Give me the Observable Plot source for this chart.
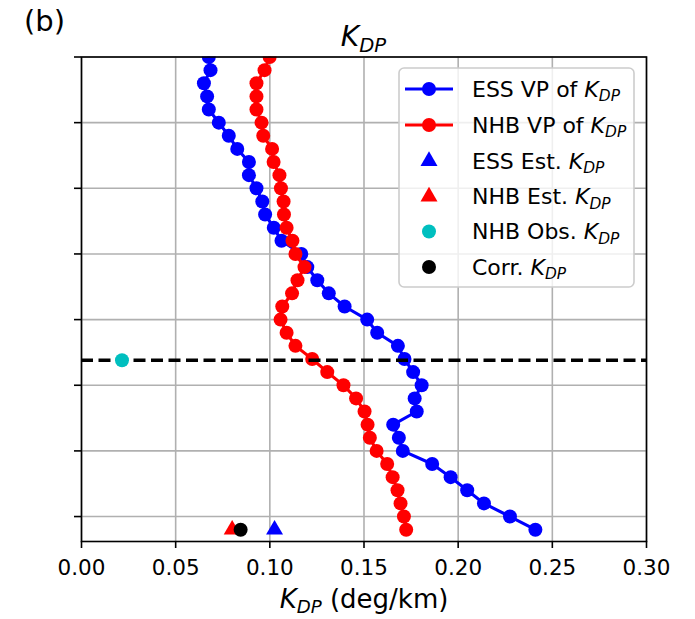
<!DOCTYPE html>
<html><head><meta charset="utf-8">
<script src="https://cdn.jsdelivr.net/npm/d3@7"></script>
<script src="https://cdn.jsdelivr.net/npm/@observablehq/plot@0.6"></script>
<style>
body{margin:0;background:#fff;}
#chart{position:relative;width:695px;height:619px;}
</style></head><body><div id="chart"></div>
<script>
// Heights (km) of the vertical-profile points (y axis has no labels)
const heights = [0.4,0.5,0.6,0.7,0.8,0.9,1.0,1.1,1.2,1.3,1.4,1.5,1.6,1.7,1.8,1.9,2.0,2.1,2.2,2.3,2.4,2.5,2.6,2.7,2.8,2.9,3.0,3.1,3.2,3.3,3.4,3.5,3.6,3.7,3.8,3.9,4.0];
// ESS vertical profile of KDP (deg/km)
const essKdp = [0.241,0.2275,0.2137,0.2048,0.196,0.1862,0.1706,0.1685,0.1655,0.178,0.1769,0.1806,0.1761,0.1715,0.168,0.157,0.1517,0.1397,0.1313,0.1252,0.1199,0.1167,0.1062,0.1021,0.0975,0.096,0.0929,0.0889,0.0889,0.0827,0.0782,0.0729,0.0676,0.0667,0.065,0.0685,0.0676];
// NHB vertical profile of KDP (deg/km)
const nhbKdp = [0.1724,0.1712,0.1694,0.1678,0.1652,0.1623,0.1567,0.1531,0.1519,0.1503,0.1458,0.1391,0.1305,0.1225,0.1136,0.1089,0.1057,0.1066,0.1118,0.1147,0.1184,0.1136,0.112,0.1089,0.1075,0.1073,0.1059,0.1051,0.102,0.1012,0.0965,0.0956,0.0929,0.0929,0.0929,0.0972,0.0999];
// single estimates
const essEstKdp = 0.1025;
const nhbEstKdp = 0.080;
const corrKdp = 0.0845;
const estHeight = 0.4;
const nhbObsKdp = 0.0215;
const obsHeight = 1.69;
// ticks
const xTicks = [0,0.05,0.10,0.15,0.20,0.25,0.30];
const yTicks = [0.5,1.0,1.5,2.0,2.5,3.0,3.5,4.0];
const legendLabels = ["ESS VP of ","NHB VP of ","ESS Est. ","NHB Est. ","NHB Obs. ","Corr. "];

const ess = heights.map((h,i)=>({h, v: essKdp[i]}));
const nhb = heights.map((h,i)=>({h, v: nhbKdp[i]}));

const W = 695, H = 619;
const chart = Plot.plot({
  width: W, height: H,
  marginLeft: 81, marginRight: 49, marginTop: 56.5, marginBottom: 78,
  style: {fontFamily: "DejaVu Sans", fontSize: "21px", color: "black", background: "white"},
  x: {domain: [0, 0.30]},
  y: {domain: [0.31, 4.0]},
  marks: [
    Plot.gridX(xTicks, {stroke: "#b0b0b0", strokeOpacity: 1, strokeWidth: 1.6}),
    Plot.gridY(yTicks, {stroke: "#b0b0b0", strokeOpacity: 1, strokeWidth: 1.6}),
    Plot.line(ess, {x: "v", y: "h", stroke: "#0000ff", strokeWidth: 3.1, clip: true}),
    Plot.dot(ess, {x: "v", y: "h", r: 7, fill: "#0000ff", clip: true}),
    Plot.line(nhb, {x: "v", y: "h", stroke: "#ff0000", strokeWidth: 3.1, clip: true}),
    Plot.dot(nhb, {x: "v", y: "h", r: 7, fill: "#ff0000", clip: true}),
    Plot.ruleY([obsHeight], {stroke: "black", strokeWidth: 3.5, strokeDasharray: "12,5.5"}),
    Plot.dot([essEstKdp], {x: d => d, y: () => estHeight, symbol: "triangle", r: 6.3, fill: "#0000ff"}),
    Plot.dot([nhbEstKdp], {x: d => d, y: () => estHeight, symbol: "triangle", r: 6.3, fill: "#ff0000"}),
    Plot.dot([nhbObsKdp], {x: d => d, y: () => obsHeight, r: 7, fill: "#00bfbf"}),
    Plot.dot([corrKdp], {x: d => d, y: () => estHeight, r: 7, fill: "black"}),
    Plot.axisX(xTicks, {tickSize: 7, tickPadding: 11, tickFormat: d => d.toFixed(2), strokeWidth: 1.6, fontSize: 21.5, label: null}),
    Plot.axisY(yTicks, {tickSize: 7, tickFormat: () => "", strokeWidth: 1.6, label: null}),
    Plot.frame({stroke: "black", strokeWidth: 1.6})
  ]
});
document.getElementById("chart").appendChild(chart);

const svg = d3.select(chart);
function kdp(sel, size) {
  sel.append("tspan").attr("font-style", "italic").text("K");
  sel.append("tspan").attr("font-style", "italic").attr("font-size", (size*0.7)+"px").attr("dy", size*0.2).text("DP");
}
// panel label
svg.append("text").attr("x", 24).attr("y", 31).attr("font-size", 29).attr("text-anchor", "start").attr("font-family", "DejaVu Sans").attr("fill", "black").text("(b)");
// title
const t = svg.append("text").attr("x", 363.5).attr("y", 46).attr("font-size", 28).attr("text-anchor", "middle").attr("font-family", "DejaVu Sans").attr("fill", "black");
kdp(t, 28);
// x label
const xl = svg.append("text").attr("x", 364).attr("y", 608).attr("font-size", 26).attr("text-anchor", "middle").attr("font-family", "DejaVu Sans").attr("fill", "black");
kdp(xl, 26);
xl.append("tspan").attr("dy", -26*0.2).text(" (deg/km)");

// legend
const lg = svg.append("g").attr("text-anchor", "start");
lg.append("rect").attr("x", 399).attr("y", 68).attr("width", 235).attr("height", 219).attr("rx", 5)
  .attr("fill", "white").attr("fill-opacity", 0.8).attr("stroke", "#cccccc").attr("stroke-width", 1.6);
const rows = [89, 125, 161, 196.5, 231.5, 267];
const kinds = [["line","#0000ff"],["line","#ff0000"],["tri","#0000ff"],["tri","#ff0000"],["dot","#00bfbf"],["dot","black"]];
const tri = d3.symbol(d3.symbolTriangle, Math.PI*6.3*6.3)();
rows.forEach((y, i) => {
  const [k, c] = kinds[i];
  if (k === "line") {
    lg.append("line").attr("x1", 405).attr("x2", 453).attr("y1", y).attr("y2", y).attr("stroke", c).attr("stroke-width", 3.1);
    lg.append("circle").attr("cx", 429).attr("cy", y).attr("r", 7).attr("fill", c);
  } else if (k === "tri") {
    lg.append("path").attr("d", tri).attr("transform", `translate(429,${y})`).attr("fill", c);
  } else {
    lg.append("circle").attr("cx", 429).attr("cy", y).attr("r", 7).attr("fill", c);
  }
  const tx = lg.append("text").attr("x", 472).attr("y", y + 7.8).attr("font-size", 22).attr("text-anchor", "start").attr("font-family", "DejaVu Sans").attr("fill", "black");
  tx.append("tspan").text(legendLabels[i]);
  kdp(tx, 22);
});
</script></body></html>
